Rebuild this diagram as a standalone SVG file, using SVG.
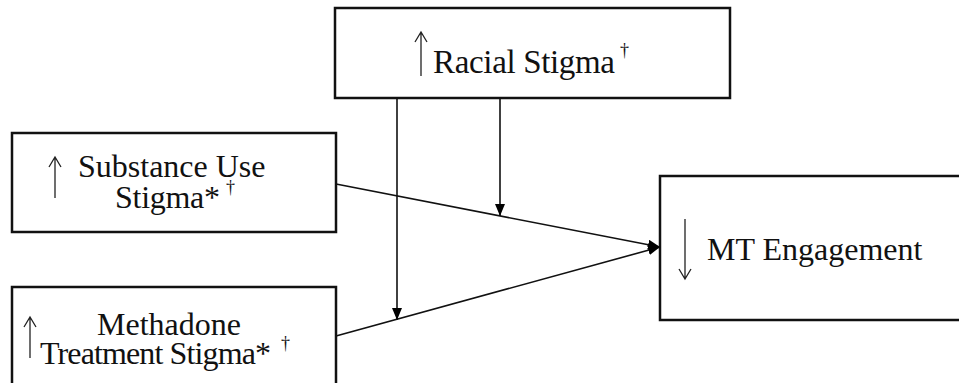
<svg xmlns="http://www.w3.org/2000/svg" width="959" height="383" viewBox="0 0 959 383">
<defs>
<style>
.box{fill:#fff;stroke:#111;stroke-width:2.5}
.t{font-family:"Liberation Serif","Times New Roman",serif;font-size:32px;fill:#111}
.sup{font-family:"Liberation Serif","Times New Roman",serif;font-size:18px;fill:#111}
.ar{fill:none;stroke:#222;stroke-width:1.3}
.ln{fill:none;stroke:#111;stroke-width:1.6}
</style>
<marker id="ah" viewBox="0 0 12 10" refX="12" refY="5" markerWidth="12" markerHeight="10" markerUnits="userSpaceOnUse" orient="auto">
<path d="M0,0 L12,5 L0,10 Z" fill="#000"/>
</marker>
</defs>
<rect width="959" height="383" fill="#fff"/>
<g id="racial">
<rect class="box" x="335" y="8" width="395" height="90"/>
<path class="ar" d="M421,76 V32 M415,42 L421,32 L427,42"/>
<text class="t" x="433" y="73" style="font-size:33px" textLength="182">Racial Stigma</text>
<text class="sup" x="620" y="56">†</text>
</g>
<g id="substance">
<rect class="box" x="12" y="133" width="324" height="99"/>
<path class="ar" d="M55,198 V157 M49,167 L55,157 L61,167"/>
<text class="t" x="78" y="177">Substance Use</text>
<text class="t" x="115" y="208" textLength="105">Stigma*</text>
<text class="sup" x="226" y="193">†</text>
</g>
<g id="methadone">
<rect class="box" x="12" y="287" width="324" height="110"/>
<path class="ar" d="M30,358 V317 M24,327 L30,317 L36,327"/>
<text class="t" x="97" y="335">Methadone</text>
<text class="t" x="40" y="364" textLength="231">Treatment Stigma*</text>
<text class="sup" x="281" y="349">†</text>
</g>
<g id="mt">
<rect class="box" x="660" y="176" width="320" height="144"/>
<path class="ar" d="M685,219 V279 M679,269 L685,279 L691,269"/>
<text class="t" x="707" y="260">MT Engagement</text>
</g>
<g id="connectors">
<line class="ln" x1="336" y1="184" x2="660" y2="247" marker-end="url(#ah)"/>
<line class="ln" x1="336" y1="336" x2="660" y2="247" marker-end="url(#ah)"/>
<line class="ln" x1="397" y1="99" x2="397" y2="320" marker-end="url(#ah)"/>
<line class="ln" x1="500" y1="99" x2="500" y2="216" marker-end="url(#ah)"/>
</g>
</svg>
